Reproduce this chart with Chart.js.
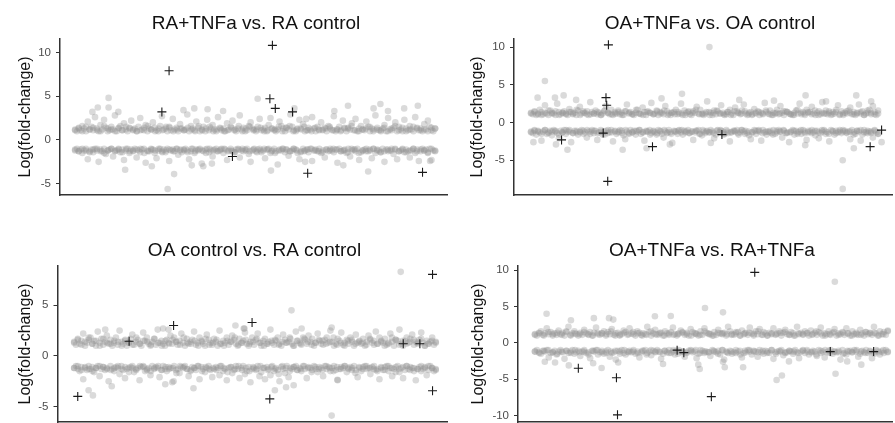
<!DOCTYPE html>
<html>
<head>
<meta charset="utf-8">
<script src="https://cdn.jsdelivr.net/npm/chart.js@4.4.1/dist/chart.umd.min.js"></script>
<style>
html, body { margin: 0; padding: 0; background: #fff; overflow: hidden; width: 895px; height: 423px; }
canvas { position: absolute; }
</style>
</head>
<body>
<canvas id="p1"></canvas>
<canvas id="p2"></canvas>
<canvas id="p3"></canvas>
<canvas id="p4"></canvas>
<script>
// log fold-change per gene, genes in index order (x = gene position)
const raTnfUp = [
1.2,1.0,1.4,1.1,1.6,1.3,1.0,2.1,1.2,1.5, 1.1,2.6,1.3,1.0,1.7,1.2,2.3,1.4,1.0,1.1,
1.5,1.2,2.8,1.0,1.3,1.6,1.1,1.9,1.2,1.0, 1.4,2.2,1.1,1.3,1.0,1.5,2.5,1.2,1.1,1.7,
1.0,1.3,1.2,2.0,1.4,1.1,1.0,1.6,2.7,1.2, 1.3,1.0,1.5,1.1,2.4,1.2,1.4,1.0,1.8,1.3,
1.1,1.2,2.9,1.0,1.6,1.3,1.1,2.1,1.4,1.0, 1.2,1.5,1.0,2.3,1.1,1.3,1.7,1.2,1.0,2.6,
1.4,1.1,1.3,1.0,1.9,1.2,1.5,2.2,1.1,1.0, 1.3,2.8,1.2,1.4,1.0,1.1,1.6,2.0,1.3,1.2,
1.0,1.5,2.4,1.1,1.2,1.4,1.0,1.7,2.5,1.3, 1.1,1.0,1.2,2.1,1.6,1.3,1.0,1.4,1.2,2.9,
1.5,1.1,1.0,1.3,2.3,1.2,1.8,1.0,1.1,1.4, 1.2,2.6,1.3,1.0,1.5,1.1,2.0,1.2,1.4,1.0,
1.6,1.3,1.1,2.7,1.0,1.2,1.5,1.1,2.2,1.3, 1.0,1.4,1.2,1.9,1.1,2.4,1.0,1.3,1.6,1.2,
1.1,2.1,1.5,1.0,1.3,1.2,2.8,1.4,1.1,1.0, 1.3,1.7,1.0,2.5,1.2,1.1,1.4,2.0,1.0,1.5,
1.2,1.0,2.3,1.3,1.1,1.6,1.2,1.0,2.6,1.4, 1.1,1.3,1.0,1.8,1.2,2.2,1.5,1.1,1.0,1.3
]
const raTnfCoreUp = [
1.1,1.3,1.0,1.5,1.2,1.4,1.1,1.0,1.6,1.3, 1.2,1.0,1.4,1.1,1.5,1.3,1.2,1.0,1.1,1.4,
1.6,1.2,1.0,1.3,1.1,1.5,1.4,1.0,1.2,1.3, 1.1,1.4,1.2,1.0,1.6,1.1,1.3,1.5,1.0,1.2,
1.3,1.0,1.1,1.4,1.2,1.6,1.0,1.3,1.5,1.1, 1.2,1.4,1.0,1.1,1.3,1.2,1.5,1.0,1.4,1.6,
1.0,1.2,1.3,1.5,1.1,1.0,1.4,1.2,1.1,1.3, 1.5,1.1,1.2,1.0,1.4,1.3,1.6,1.1,1.0,1.2,
1.3,1.5,1.0,1.2,1.1,1.4,1.0,1.3,1.6,1.1, 1.4,1.0,1.2,1.5,1.3,1.1,1.2,1.0,1.4,1.3
]
const raTnfDown = [
-1.2,-1.0,-1.3,-1.1,-1.5,-1.2,-1.0,-2.2,-1.3,-1.1, -1.4,-1.0,-1.2,-2.5,-1.1,-1.3,-1.0,-1.6,-1.2,-1.1,
-1.0,-1.9,-1.3,-1.2,-1.0,-1.4,-1.1,-2.3,-1.2,-1.0, -1.5,-1.1,-1.3,-1.0,-2.0,-1.2,-1.4,-1.1,-1.0,-2.6,
-1.2,-1.3,-1.0,-1.1,-1.5,-2.1,-1.2,-1.0,-1.3,-1.1, -1.4,-1.0,-2.4,-1.2,-1.1,-1.3,-1.0,-1.7,-1.2,-1.4,
-1.1,-1.0,-1.2,-2.2,-1.3,-1.0,-1.5,-1.1,-1.2,-1.0, -2.7,-1.3,-1.1,-1.0,-1.4,-1.2,-1.9,-1.1,-1.0,-1.3,
-1.2,-1.0,-1.5,-1.1,-2.3,-1.2,-1.0,-1.3,-1.4,-1.1, -1.0,-2.0,-1.2,-1.3,-1.1,-1.0,-1.6,-2.5,-1.2,-1.0,
-1.3,-1.1,-1.0,-1.4,-1.2,-2.1,-1.1,-1.0,-1.5,-1.2, -1.0,-1.3,-2.8,-1.1,-1.2,-1.0,-1.4,-1.1,-1.8,-1.3,
-1.2,-1.0,-1.1,-1.5,-2.2,-1.3,-1.0,-1.2,-1.1,-1.4, -1.0,-2.4,-1.2,-1.1,-1.3,-1.0,-1.5,-1.2,-2.0,-1.1,
-1.3,-1.0,-1.2,-1.4,-1.1,-2.6,-1.0,-1.3,-1.2,-1.1, -1.5,-1.0,-1.9,-1.2,-1.1,-1.3,-1.0,-2.3,-1.4,-1.2,
-1.1,-1.0,-1.3,-1.2,-2.1,-1.0,-1.5,-1.1,-1.2,-1.4, -1.0,-2.5,-1.1,-1.3,-1.2,-1.0,-1.6,-1.1,-2.2,-1.3,
-1.2,-1.0,-1.4,-1.1,-1.3,-2.0,-1.2,-1.0,-1.5,-1.1, -2.4,-1.3,-1.0,-1.2,-1.1,-1.4,-1.0,-2.3,-1.2,-1.3
]
const raTnfCoreDown = [
-1.1,-1.3,-1.0,-1.2,-1.4,-1.1,-1.0,-1.3,-1.5,-1.2, -1.0,-1.2,-1.1,-1.4,-1.0,-1.3,-1.2,-1.1,-1.0,-1.5,
-1.3,-1.1,-1.2,-1.0,-1.4,-1.2,-1.1,-1.3,-1.0,-1.1, -1.2,-1.4,-1.0,-1.3,-1.1,-1.2,-1.5,-1.0,-1.2,-1.3,
-1.1,-1.0,-1.3,-1.2,-1.4,-1.1,-1.0,-1.2,-1.3,-1.1, -1.4,-1.2,-1.0,-1.1,-1.3,-1.5,-1.2,-1.0,-1.1,-1.3,
-1.0,-1.2,-1.4,-1.3,-1.1,-1.0,-1.2,-1.3,-1.4,-1.1, -1.2,-1.0,-1.1,-1.3,-1.2,-1.4,-1.0,-1.1,-1.5,-1.2,
-1.3,-1.1,-1.0,-1.2,-1.4,-1.3,-1.1,-1.2,-1.0,-1.3, -1.1,-1.4,-1.2,-1.0,-1.3,-1.1,-1.2,-1.5,-1.0,-1.2
]
const raTnfOut = [[9.3,4.8],[9.3,3.7],[6.3,3.7],[4.8,3.2],[12,3.2],[25.7,-5.6],[27.5,-3.9],[13.9,-3.4],[21.3,-3.0],[32.4,-2.9],[35.6,-3.0],[30.1,3.4],[33.1,3.6],[36.8,3.5],[38,-2.7],[41.1,3.3],[50.7,4.7],[54.4,-3.5],[60.9,3.6],[63.9,-2.5],[64.2,2.4],[72,3.3],[74.5,-2.9],[75.8,3.9],[81.4,-3.6],[82.9,3.6],[84.8,4.1],[86.9,3.3],[91.4,3.6],[95.2,3.9],[98.6,-2.4]]
const raTnfHits = [[24.1,3.2],[26.1,7.9],[43.7,-1.9],[54.8,10.8],[54.1,4.7],[55.6,3.6],[60.4,3.2],[64.6,-3.8],[96.5,-3.7]]

const oaTnfUp = [
1.3,1.1,1.5,1.0,1.2,1.7,1.4,1.1,2.3,1.2, 1.0,1.6,1.3,1.2,1.0,2.5,1.4,1.1,1.3,1.5,
1.2,1.0,1.8,1.4,1.1,1.3,1.0,1.6,2.1,1.2, 1.5,1.3,1.1,1.0,2.7,1.4,1.2,1.6,1.1,1.3,
1.0,1.2,1.5,2.2,1.3,1.1,1.7,1.0,1.4,1.2, 1.6,1.1,1.3,1.0,1.5,2.4,1.2,1.4,1.1,1.0,
1.3,1.7,1.2,1.1,2.0,1.4,1.0,1.5,1.3,2.6, 1.1,1.2,1.6,1.0,1.4,1.3,1.1,2.2,1.5,1.2,
1.0,1.3,1.4,1.7,1.1,1.2,2.5,1.0,1.6,1.3, 1.4,1.1,1.0,1.5,1.3,2.1,1.2,1.7,1.1,1.0,
1.2,2.8,1.4,1.3,1.0,1.6,1.1,1.5,1.2,2.3, 1.3,1.0,1.1,1.4,1.7,1.2,1.0,2.0,1.5,1.3,
1.1,1.6,2.4,1.2,1.0,1.3,1.4,1.1,1.8,1.2, 1.5,1.0,1.3,1.1,2.6,1.4,1.2,1.6,1.0,1.3,
1.2,1.7,1.1,2.2,1.3,1.0,1.5,1.4,1.2,1.1, 1.0,1.3,1.6,1.2,2.5,1.1,1.4,1.0,1.7,1.3,
1.4,2.1,1.2,1.0,1.3,1.5,1.1,2.7,1.2,1.6, 1.1,1.3,1.0,1.4,1.2,1.7,2.3,1.1,1.5,1.0,
1.3,1.2,1.6,2.0,1.1,1.4,1.0,1.3,2.4,1.2, 1.5,1.0,1.2,1.3,1.7,1.1,2.2,1.4,1.0,1.6
]
const oaTnfCoreUp = [
1.2,1.4,1.1,1.0,1.3,1.6,1.2,1.5,1.0,1.3, 1.1,1.4,1.2,1.7,1.0,1.3,1.5,1.1,1.2,1.4,
1.0,1.6,1.3,1.1,1.2,1.4,1.0,1.5,1.3,1.1, 1.7,1.2,1.0,1.4,1.3,1.1,1.5,1.2,1.6,1.0,
1.3,1.1,1.4,1.2,1.0,1.5,1.3,1.7,1.1,1.2, 1.4,1.0,1.3,1.6,1.2,1.1,1.4,1.0,1.5,1.3,
1.2,1.5,1.1,1.0,1.3,1.4,1.2,1.6,1.1,1.0, 1.3,1.2,1.5,1.4,1.1,1.0,1.7,1.3,1.2,1.4,
1.1,1.6,1.0,1.3,1.2,1.5,1.1,1.4,1.0,1.2, 1.5,1.3,1.1,1.2,1.4,1.0,1.6,1.3,1.1,1.2
]
const oaTnfDown = [
-1.2,-1.4,-1.0,-1.6,-1.1,-1.3,-2.4,-1.2,-1.0,-1.5, -1.3,-1.1,-1.7,-1.0,-1.2,-1.4,-2.1,-1.1,-1.3,-1.0,
-1.5,-1.2,-1.0,-2.6,-1.4,-1.1,-1.3,-1.6,-1.2,-1.0, -1.1,-1.3,-2.0,-1.2,-1.5,-1.0,-1.4,-1.1,-2.3,-1.3,
-1.0,-1.6,-1.2,-1.1,-1.4,-1.3,-1.0,-2.5,-1.2,-1.5, -1.3,-1.0,-1.1,-1.7,-2.2,-1.2,-1.4,-1.0,-1.3,-1.1,
-1.6,-1.2,-1.0,-1.5,-1.3,-2.4,-1.1,-1.2,-1.0,-1.4, -1.2,-1.3,-1.6,-1.0,-1.1,-1.5,-2.0,-1.2,-1.4,-1.0,
-1.3,-2.7,-1.1,-1.2,-1.5,-1.0,-1.3,-1.6,-1.1,-1.2, -1.0,-1.4,-1.2,-2.3,-1.3,-1.1,-1.0,-1.5,-1.7,-1.2,
-1.4,-1.1,-1.3,-1.0,-1.2,-2.1,-1.6,-1.0,-1.3,-1.1, -1.2,-1.5,-1.0,-1.4,-2.5,-1.3,-1.1,-1.2,-1.0,-1.6,
-1.3,-1.0,-1.2,-1.1,-1.4,-1.7,-2.2,-1.3,-1.0,-1.5, -1.1,-1.2,-2.4,-1.0,-1.3,-1.6,-1.2,-1.1,-1.4,-1.0,
-1.5,-1.3,-1.0,-1.2,-2.0,-1.1,-1.4,-1.3,-2.6,-1.2, -1.0,-1.6,-1.1,-1.3,-1.2,-1.5,-1.0,-1.4,-2.3,-1.1,
-1.2,-1.0,-1.3,-1.7,-1.1,-2.1,-1.4,-1.2,-1.0,-1.5, -1.3,-2.5,-1.0,-1.2,-1.6,-1.1,-1.3,-1.0,-1.4,-1.2,
-1.1,-1.4,-1.2,-2.2,-1.0,-1.3,-1.5,-1.1,-1.2,-2.4, -1.6,-1.0,-1.3,-1.1,-1.2,-1.4,-2.0,-1.0,-1.3,-1.5
]
const oaTnfCoreDown = [
-1.3,-1.1,-1.2,-1.5,-1.0,-1.4,-1.2,-1.1,-1.6,-1.3, -1.0,-1.2,-1.4,-1.1,-1.3,-1.5,-1.0,-1.2,-1.1,-1.4,
-1.2,-1.6,-1.0,-1.3,-1.1,-1.2,-1.4,-1.0,-1.5,-1.3, -1.1,-1.0,-1.3,-1.2,-1.6,-1.1,-1.4,-1.2,-1.0,-1.3,
-1.5,-1.2,-1.1,-1.0,-1.3,-1.4,-1.2,-1.1,-1.5,-1.0, -1.2,-1.3,-1.4,-1.1,-1.0,-1.6,-1.2,-1.3,-1.1,-1.4,
-1.0,-1.5,-1.2,-1.3,-1.1,-1.0,-1.4,-1.2,-1.3,-1.6, -1.1,-1.2,-1.0,-1.4,-1.3,-1.1,-1.5,-1.0,-1.2,-1.3,
-1.4,-1.1,-1.3,-1.0,-1.2,-1.5,-1.1,-1.4,-1.2,-1.0, -1.3,-1.2,-1.6,-1.1,-1.0,-1.3,-1.4,-1.2,-1.1,-1.5
]
const oaTnfOut = [[4,5.5],[51.4,10.0],[89.8,-8.8],[89.8,-5.0],[26.4,-3.6],[10.5,-3.6],[9.4,3.6],[93.7,3.6],[79.1,3.6],[43.5,3.8],[37.6,3.2],[1.9,3.3],[6.9,3.3],[93,-3.4],[101,-2.6],[79,-3.0],[51.8,-2.7],[33.3,-3.4],[7.2,-2.9],[0.7,-2.6],[40,-2.9],[13,3.0],[60,3.0],[70,2.9],[85,2.8],[98,2.8]]
const oaTnfHits = [[22.3,10.3],[21.6,3.3],[21.8,2.3],[20.8,-1.4],[22.1,-7.8],[8.8,-2.3],[35,-3.2],[55,-1.6],[97.7,-3.2],[101,-1.0]]

const ctrlUp = [
1.4,1.1,1.7,1.2,1.5,2.2,1.0,1.3,1.6,1.8, 1.2,1.5,1.0,2.4,1.3,1.7,1.1,1.4,2.0,1.2,
1.6,1.0,1.3,1.8,1.1,2.5,1.4,1.2,1.5,1.0, 1.3,1.7,2.1,1.1,1.4,1.6,1.2,1.0,2.3,1.5,
1.8,1.2,1.0,1.4,1.7,1.1,2.6,1.3,1.5,1.2, 1.0,1.6,1.3,2.0,1.2,1.8,1.4,1.1,1.5,2.2,
1.3,1.0,1.7,1.2,1.4,1.6,2.4,1.1,1.3,1.8, 1.5,1.2,1.0,2.1,1.6,1.3,1.1,1.7,1.4,1.0,
2.5,1.2,1.5,1.3,1.8,1.1,1.4,2.0,1.6,1.2, 1.0,1.7,1.3,1.5,2.3,1.2,1.0,1.4,1.8,1.1,
1.6,2.2,1.3,1.0,1.5,1.7,1.2,1.4,2.6,1.3, 1.1,1.5,1.8,1.2,1.0,2.1,1.6,1.3,1.4,1.7,
1.2,1.0,2.4,1.5,1.3,1.1,1.8,1.6,1.2,2.0, 1.4,1.7,1.0,1.3,2.2,1.5,1.2,1.1,1.6,1.8,
1.3,2.5,1.4,1.0,1.2,1.7,1.5,2.3,1.1,1.3, 1.6,1.2,1.8,1.4,1.0,2.1,1.3,1.5,1.2,1.7,
1.0,1.4,2.0,1.6,1.3,1.1,2.4,1.2,1.8,1.5, 1.3,1.7,1.1,1.2,2.2,1.4,1.0,1.6,1.5,2.6,
1.2,1.0,1.5,1.8,1.3,1.7,2.1,1.1,1.4,1.2, 1.6,2.3,1.3,1.0,1.5,1.2,1.4,1.8,1.1,1.3
]
const ctrlCoreUp = [
1.3,1.6,1.1,1.4,1.8,1.2,1.5,1.0,1.7,1.3, 1.2,1.5,1.4,1.0,1.6,1.3,1.1,1.8,1.2,1.5,
1.4,1.1,1.7,1.3,1.0,1.5,1.2,1.6,1.4,1.1, 1.8,1.3,1.2,1.5,1.0,1.4,1.7,1.1,1.3,1.6,
1.2,1.0,1.5,1.4,1.8,1.1,1.3,1.6,1.2,1.4, 1.7,1.3,1.0,1.2,1.5,1.6,1.1,1.4,1.3,1.8,
1.0,1.5,1.2,1.7,1.4,1.1,1.3,1.6,1.5,1.2, 1.4,1.8,1.1,1.3,1.0,1.5,1.6,1.2,1.4,1.3,
1.1,1.7,1.5,1.2,1.4,1.0,1.3,1.8,1.6,1.1, 1.5,1.2,1.4,1.6,1.3,1.7,1.0,1.2,1.5,1.4
]
const ctrlDown = [
-1.2,-1.0,-1.3,-1.5,-1.1,-2.3,-1.2,-1.4,-1.0,-1.3, -1.1,-1.6,-1.2,-1.0,-2.0,-1.3,-1.1,-1.4,-1.2,-2.5,
-1.0,-1.3,-1.5,-1.1,-1.2,-1.8,-1.0,-1.4,-2.2,-1.3, -1.2,-1.1,-1.0,-1.6,-1.3,-1.2,-2.4,-1.1,-1.0,-1.5,
-1.4,-1.2,-1.9,-1.0,-1.3,-1.1,-1.2,-2.1,-1.4,-1.0, -1.3,-1.5,-1.1,-1.2,-2.6,-1.0,-1.4,-1.3,-1.7,-1.1,
-1.2,-1.0,-1.3,-2.0,-1.5,-1.1,-1.2,-1.4,-1.0,-2.3, -1.1,-1.3,-1.6,-1.2,-1.0,-1.4,-2.1,-1.3,-1.1,-1.2,
-1.9,-1.0,-1.5,-1.3,-2.4,-1.2,-1.1,-1.7,-1.4,-1.0, -1.3,-2.2,-1.2,-1.0,-1.8,-1.5,-1.1,-2.6,-1.3,-1.2,
-1.4,-1.0,-2.0,-1.6,-1.2,-2.3,-1.1,-1.3,-1.9,-1.0, -1.5,-1.2,-1.4,-2.5,-1.1,-1.3,-1.7,-1.0,-2.1,-1.2,
-1.3,-1.1,-1.0,-1.4,-1.2,-1.5,-1.0,-1.3,-2.2,-1.1, -1.2,-1.4,-1.0,-1.3,-1.6,-1.1,-1.2,-2.0,-1.0,-1.3,
-1.1,-1.5,-1.2,-1.0,-1.4,-2.4,-1.3,-1.1,-1.2,-1.0, -1.6,-1.3,-1.1,-1.2,-1.0,-1.4,-2.1,-1.2,-1.5,-1.1,
-1.0,-1.3,-1.2,-1.8,-1.1,-1.0,-1.4,-1.3,-2.3,-1.2, -1.4,-1.1,-1.0,-1.5,-1.2,-2.0,-1.3,-1.1,-1.0,-1.6,
-1.2,-2.2,-1.4,-1.0,-1.3,-1.1,-1.2,-1.5,-2.4,-1.3, -1.1,-1.0,-1.3,-1.2,-1.9,-1.4,-1.0,-1.2,-1.5,-1.3
]
const ctrlCoreDown = [
-1.2,-1.0,-1.4,-1.1,-1.3,-1.5,-1.2,-1.0,-1.1,-1.3, -1.4,-1.2,-1.0,-1.3,-1.1,-1.6,-1.2,-1.4,-1.0,-1.1,
-1.3,-1.5,-1.2,-1.0,-1.4,-1.1,-1.3,-1.2,-1.7,-1.0, -1.1,-1.3,-1.4,-1.2,-1.0,-1.5,-1.1,-1.3,-1.2,-1.4,
-1.0,-1.2,-1.6,-1.1,-1.3,-1.0,-1.4,-1.2,-1.5,-1.1, -1.3,-1.0,-1.2,-1.4,-1.1,-1.3,-1.8,-1.0,-1.2,-1.5,
-1.1,-1.4,-1.3,-1.0,-1.2,-1.6,-1.1,-1.3,-1.4,-1.0, -1.2,-1.5,-1.1,-1.3,-1.0,-1.2,-1.4,-1.7,-1.1,-1.3,
-1.0,-1.2,-1.3,-1.5,-1.1,-1.4,-1.0,-1.2,-1.6,-1.3, -1.1,-1.0,-1.4,-1.2,-1.3,-1.5,-1.1,-1.0,-1.2,-1.4
]
const ctrlOut = [[90.3,8.3],[60.1,4.5],[71.2,-5.9],[44.6,3.0],[24.6,2.7],[4.0,-3.4],[5.2,-3.9],[55.5,-3.4],[58.6,-3.1],[60.7,-2.9],[72.8,-2.35],[62.9,2.7],[47.1,2.7],[33,-3.2],[25.2,-2.8],[27.5,-2.5],[10.4,-3.0],[26.1,2.6],[8.6,2.6],[46.9,2.7],[71.2,2.8]]
const ctrlHits = [[1,-4.0],[15.2,1.45],[27.5,3.0],[49.2,3.3],[54.1,-4.25],[91,1.2],[95.6,1.2],[99.1,8.05],[99.1,-3.45]]

const tnfUp = [
1.2,1.0,1.4,1.6,1.1,1.3,2.0,1.2,1.5,1.0, 1.3,1.1,1.7,1.2,1.4,1.0,1.5,2.2,1.1,1.3,
1.6,1.2,1.0,1.4,1.1,1.8,1.3,1.2,1.5,1.0, 1.4,2.1,1.2,1.1,1.3,1.6,1.0,1.5,1.2,1.9,
1.1,1.3,1.4,1.0,1.2,1.7,1.5,1.1,2.0,1.3, 1.2,1.0,1.6,1.4,1.1,1.3,1.2,2.2,1.5,1.0,
1.3,1.8,1.1,1.2,1.4,1.0,1.6,1.3,1.1,1.5, 2.1,1.2,1.0,1.3,1.7,1.4,1.1,1.2,1.0,1.9,
1.5,1.3,1.2,1.0,1.6,1.1,2.0,1.4,1.3,1.2, 1.0,1.5,1.1,1.8,1.3,1.2,1.4,1.0,2.2,1.6,
1.2,1.1,1.3,1.5,1.0,1.7,1.2,1.4,1.1,2.1, 1.3,1.0,1.6,1.2,1.9,1.1,1.5,1.3,1.0,1.4,
1.2,2.0,1.1,1.3,1.6,1.0,1.4,1.8,1.2,1.1, 1.5,1.3,1.0,2.2,1.2,1.4,1.1,1.6,1.3,1.0,
1.7,1.2,1.4,1.1,1.5,2.1,1.0,1.3,1.2,1.6, 1.1,1.4,1.9,1.0,1.3,1.2,1.5,1.1,2.0,1.3,
1.0,1.6,1.2,1.4,1.1,1.8,1.3,1.0,1.5,1.2, 1.4,1.1,2.2,1.3,1.0,1.6,1.2,1.5,1.1,1.7
]
const tnfCoreUp = [
1.1,1.3,1.0,1.5,1.2,1.4,1.1,1.6,1.0,1.3, 1.2,1.5,1.1,1.0,1.4,1.3,1.2,1.6,1.0,1.1,
1.4,1.2,1.5,1.3,1.0,1.1,1.6,1.2,1.4,1.0, 1.3,1.1,1.2,1.5,1.4,1.0,1.3,1.1,1.6,1.2,
1.0,1.4,1.3,1.2,1.1,1.5,1.0,1.3,1.4,1.2, 1.6,1.1,1.0,1.3,1.2,1.4,1.5,1.1,1.0,1.3,
1.2,1.4,1.1,1.6,1.3,1.0,1.2,1.5,1.1,1.4, 1.3,1.0,1.2,1.1,1.5,1.3,1.4,1.0,1.2,1.6
]
const tnfDown = [
-1.2,-1.0,-1.3,-1.5,-1.1,-1.2,-1.0,-2.0,-1.4,-1.3, -1.1,-1.6,-1.2,-1.0,-1.3,-2.2,-1.1,-1.4,-1.2,-1.0,
-1.5,-1.3,-1.1,-1.8,-1.2,-1.0,-1.4,-1.3,-2.1,-1.1, -1.2,-1.0,-1.6,-1.3,-1.1,-1.5,-1.2,-1.0,-1.9,-1.4,
-1.3,-2.3,-1.1,-1.2,-1.0,-1.4,-1.6,-1.2,-1.1,-1.3, -1.0,-1.5,-1.2,-2.0,-1.3,-1.1,-1.0,-1.4,-1.2,-1.7,
-1.1,-1.3,-1.0,-1.2,-2.2,-1.5,-1.1,-1.3,-1.0,-1.4, -1.2,-1.6,-1.1,-1.0,-1.3,-1.2,-1.9,-1.4,-1.1,-1.0,
-1.3,-1.2,-2.1,-1.5,-1.0,-1.1,-1.4,-1.2,-1.3,-1.8, -1.0,-1.2,-1.3,-1.1,-1.6,-1.0,-2.3,-1.2,-1.4,-1.1,
-1.5,-1.3,-1.0,-1.2,-1.1,-2.0,-1.4,-1.3,-1.0,-1.2, -1.6,-1.1,-1.2,-1.9,-1.0,-1.3,-1.5,-1.1,-1.2,-1.4,
-1.0,-2.2,-1.3,-1.2,-1.1,-1.0,-1.7,-1.4,-1.3,-1.1, -1.2,-1.5,-1.0,-1.3,-2.1,-1.2,-1.1,-1.4,-1.0,-1.6,
-1.3,-1.1,-1.2,-1.8,-1.0,-1.4,-1.2,-2.0,-1.3,-1.1, -1.0,-1.5,-1.2,-1.3,-1.1,-2.3,-1.0,-1.4,-1.6,-1.2,
-1.1,-1.3,-1.0,-1.2,-1.9,-1.5,-1.1,-1.3,-1.0,-1.4, -1.2,-2.1,-1.3,-1.0,-1.1,-1.6,-1.2,-1.4,-1.0,-1.3
]
const tnfCoreDown = [
-1.2,-1.4,-1.1,-1.0,-1.3,-1.5,-1.2,-1.1,-1.4,-1.0, -1.3,-1.2,-1.6,-1.1,-1.0,-1.3,-1.4,-1.2,-1.1,-1.5,
-1.0,-1.3,-1.2,-1.4,-1.1,-1.6,-1.0,-1.2,-1.3,-1.1, -1.4,-1.0,-1.5,-1.2,-1.3,-1.1,-1.0,-1.4,-1.2,-1.3,
-1.1,-1.5,-1.0,-1.3,-1.2,-1.4,-1.6,-1.1,-1.0,-1.2, -1.3,-1.1,-1.4,-1.0,-1.5,-1.2,-1.3,-1.1,-1.2,-1.4,
-1.0,-1.2,-1.3,-1.6,-1.1,-1.0,-1.4,-1.2,-1.3,-1.5, -1.1,-1.3,-1.0,-1.2,-1.4,-1.1,-1.5,-1.3,-1.0,-1.2
]
const tnfOut = [[85,8.4],[3.3,4.0],[10.2,3.1],[16.7,3.4],[21,3.4],[22.2,3.2],[34,3.65],[38.5,3.7],[48.2,4.8],[53.3,4.2],[68.5,-5.1],[70,-4.5],[85.2,-4.25],[92.5,-3.0],[5.7,-2.7],[2.8,-2.6],[16.5,-2.8],[18.9,-3.45],[46.7,-3.6],[46.3,-3.0],[53.8,-3.35],[53.3,-2.6],[59,-3.35],[9.6,-3.1],[23.6,-2.7],[36.3,-2.9],[72,-2.55],[88.5,-2.55]]
const tnfHits = [[62.3,9.7],[12.3,-3.5],[23.1,-4.8],[23.4,-9.9],[40.3,-1.0],[42.2,-1.35],[50,-7.4],[83.7,-1.2],[96,-1.2]]

const ticks1 = [-5, 0, 5, 10]
const ticks2 = [-5, 0, 5, 10]
const ticks3 = [-5, 0, 5]
const ticks4 = [-10, -5, 0, 5, 10]

Chart.defaults.font.family = "'Liberation Sans', Arial, sans-serif"

// width is chosen so the full-width title sits over the plot like in the original
const panels = [
    { id: 'p1', left: 0,   top: 0,   width: 512, padRight: 65, yW: 60, yTitlePad: 16,
      title: 'RA+TNFa vs. RA control', yMin: -6.3, yMax: 11.55, ticks: ticks1, xMin: -4.2, xMax: 103.3,
      bands: [raTnfUp, raTnfCoreUp, raTnfDown, raTnfCoreDown], out: raTnfOut, hits: raTnfHits },
    { id: 'p2', left: 448, top: 0,   width: 524, padRight: 80, yW: 66, yTitlePad: 19.5,
      title: 'OA+TNFa vs. OA control', yMin: -9.62, yMax: 11.1, ticks: ticks2, xMin: -4.9, xMax: 104.0,
      bands: [oaTnfUp, oaTnfCoreUp, oaTnfDown, oaTnfCoreDown], out: oaTnfOut, hits: oaTnfHits },
    { id: 'p3', left: 0,   top: 227, width: 509, padRight: 62, yW: 57.5, yTitlePad: 16,
      title: 'OA control vs. RA control', yMin: -6.54, yMax: 8.9, ticks: ticks3, xMin: -4.6, xMax: 103.1,
      bands: [ctrlUp, ctrlCoreUp, ctrlDown, ctrlCoreDown], out: ctrlOut, hits: ctrlHits },
    { id: 'p4', left: 448, top: 227, width: 528, padRight: 84, yW: 70, yTitlePad: 21,
      title: 'OA+TNFa vs. RA+TNFa', yMin: -10.9, yMax: 10.6, ticks: ticks4, xMin: -4.8, xMax: 101.2,
      bands: [tnfUp, tnfCoreUp, tnfDown, tnfCoreDown], out: tnfOut, hits: tnfHits },
]

function spread(arr) {
    return arr.map((y, i) => ({ x: i * 100 / (arr.length - 1), y }))
}

for (const p of panels) {
    const ctx = document.getElementById(p.id)
    ctx.width = p.width
    ctx.height = 207
    ctx.style.left = p.left + 'px'
    ctx.style.top = p.top + 'px'

    let genes = []
    p.bands.forEach(b => { genes = genes.concat(spread(b)) })
    genes = genes.concat(p.out.map(v => ({ x: v[0], y: v[1] })))

    new Chart(ctx, {
        type: 'scatter',
        data: {
            datasets: [{
                label: 'hits',
                data: p.hits.map(v => ({ x: v[0], y: v[1] })),
                pointStyle: 'cross',
                pointRadius: 4.5,
                borderColor: '#1a1a1a',
                borderWidth: 1.1,
            }, {
                label: 'genes',
                data: genes,
                pointRadius: 3.3,
                backgroundColor: 'rgba(150,150,150,0.35)',
                borderWidth: 0,
            }]
        },
        options: {
            responsive: false,
            devicePixelRatio: 1,
            animation: false,
            events: [],
            layout: { padding: { left: 0, right: 0, top: 0, bottom: 8 } },
            plugins: {
                legend: { display: false },
                tooltip: { enabled: false },
                title: {
                    display: true,
                    text: p.title,
                    color: '#111',
                    font: { size: 19, weight: 'normal' },
                    padding: { top: 12, bottom: 4 }
                }
            },
            scales: {
                x: {
                    type: 'linear',
                    min: p.xMin,
                    max: p.xMax,
                    ticks: { display: false },
                    grid: { display: false },
                    border: { display: true, color: '#333', width: 1.5 },
                    afterFit: s => { s.height = 0 }
                },
                y: {
                    min: p.yMin,
                    max: p.yMax,
                    afterBuildTicks: s => { s.ticks = p.ticks.map(v => ({ value: v })) },
                    ticks: { color: '#4d4d4d', font: { size: 11.5 }, padding: 5 },
                    grid: { drawOnChartArea: false, drawTicks: true, tickLength: 4, color: '#333', lineWidth: 1 },
                    border: { display: true, color: '#333', width: 1.5 },
                    title: {
                        display: true,
                        text: 'Log(fold-change)',
                        color: '#111',
                        font: { size: 16 },
                        padding: { top: p.yTitlePad, bottom: 0 }
                    },
                    afterFit: s => { s.width = p.yW }
                },
                // empty right-hand box that only reserves the space right of the plot
                spacer: {
                    position: 'right',
                    display: true,
                    ticks: { display: false },
                    grid: { display: false },
                    border: { display: false },
                    afterFit: s => { s.width = p.padRight }
                }
            }
        }
    })
}
</script>
</body>
</html>
